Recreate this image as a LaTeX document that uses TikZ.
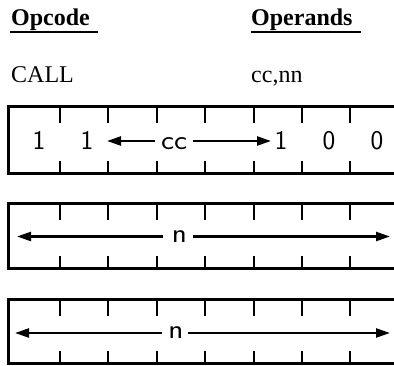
\documentclass[tikz,border=0pt]{standalone}
\usepackage{fontspec}
\setmainfont{Liberation Serif}
\usetikzlibrary{arrows.meta}
\tikzset{
  hdr/.style={anchor=base west,inner sep=0pt,font=\fontsize{24}{28}\selectfont\bfseries},
  txt/.style={anchor=base west,inner sep=0pt,font=\fontsize{24}{28}\selectfont},
  bit/.style={anchor=base,inner sep=0pt,font=\sffamily\fontsize{27}{31}\selectfont},
  wide/.style={bit,xscale=1.15},
  frame/.style={line width=3pt},
  tick/.style={line width=2pt},
  uline/.style={line width=1.4pt},
  arr/.style={line width=2.3pt,-{Triangle[length=14pt,width=9pt]}}
}
\begin{document}
\begin{tikzpicture}[x=1pt,y=-1pt]
\useasboundingbox (0,0) rectangle (394,366);
\clip (0,0) rectangle (394,366);
% headings
\node[hdr] (opc) at (11,26) {Opcode};
\node[hdr] (opr) at (251,26) {Operands};
\draw[uline] (10,32) -- (98,32);
\draw[uline] (251,32) -- (361,32);
\node[txt] (call) at (11,83) {CALL};
\node[txt] (ops) at (251,83) {cc,nn};
% three boxes
\foreach \t/\b in {107/174, 204/269, 300/364}{
  \draw[frame] (402,\t) -- (8,\t) -- (8,\b) -- (402,\b);
  \foreach \i in {0,...,6}{
    \draw[tick] ({60+48.4*\i},\t) -- ++(0,16);
    \draw[tick] ({60+48.4*\i},\b) -- ++(0,-13);
  }
}
% box 1 contents
\node[bit] (d1) at (39,150) {1};
\node[bit] (d2) at (87,150) {1};
\node[wide] (cc) at (174,150) {cc};
\node[bit] (d6) at (281,150) {1};
\node[bit] (d7) at (329,150) {0};
\node[bit] (d8) at (377,150) {0};
\coordinate (a1s) at (155,141);
\coordinate (a1e) at (107,141);
\coordinate (a2s) at (193,141);
\coordinate (a2e) at (271,141);
\draw[arr] (a1s) -- (a1e);
\draw[arr] (a2s) -- (a2e);
% box 2 contents
\node[wide] (n2) at (179.5,243) {n};
\coordinate (b1s) at (163,236.5);
\coordinate (b1e) at (17,236.5);
\coordinate (b2s) at (193,236.5);
\coordinate (b2e) at (390,236.5);
\draw[arr] (b1s) -- (b1e);
\draw[arr] (b2s) -- (b2e);
% box 3 contents
\node[wide] (n3) at (176,339) {n};
\coordinate (c1s) at (162,333);
\coordinate (c1e) at (15,333);
\coordinate (c2s) at (188,333);
\coordinate (c2e) at (390,333);
\draw[arr] (c1s) -- (c1e);
\draw[arr] (c2s) -- (c2e);
\end{tikzpicture}
\end{document}
